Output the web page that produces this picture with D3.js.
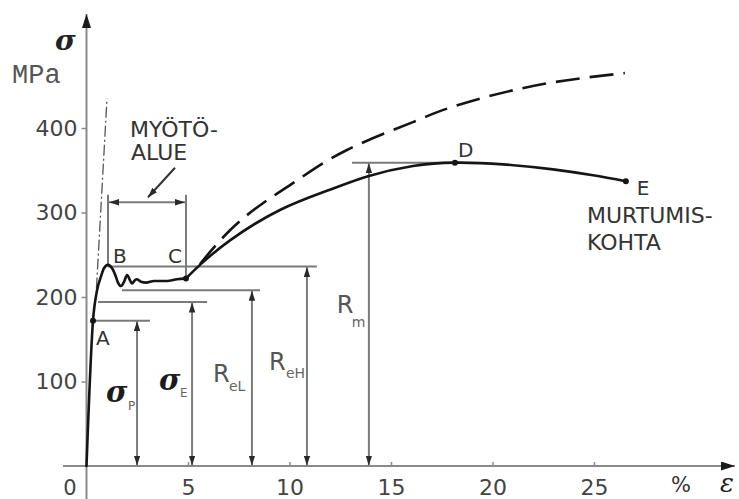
<!DOCTYPE html>
<html>
<head>
<meta charset="utf-8">
<script src="https://cdn.jsdelivr.net/npm/d3@7"></script>
<style>
  html, body { margin: 0; padding: 0; background: #fff; }
  svg { display: block; }
</style>
</head>
<body>
<svg id="chart" width="739" height="499"></svg>
<script>
// Strain (%) and stress (MPa) values for a mild steel tensile test.
const strainTicks = [5, 10, 15, 20, 25];
const stressTicks = [100, 200, 300, 400];

// Engineering stress-strain curve [strain %, stress MPa]: elastic part and yield plateau up to C
const yieldCurve = [
  [0, 0], [0.32, 172], [0.52, 208], [0.71, 224], [0.86, 234], [1.06, 238],
  [1.26, 234], [1.45, 224], [1.55, 217], [1.70, 213], [1.85, 218], [2.0, 226],
  [2.14, 220], [2.24, 216], [2.39, 220], [2.49, 221], [2.68, 218], [2.93, 217],
  [3.33, 219], [3.97, 219], [4.46, 221], [4.90, 222]
];
// ...and strain hardening from C to fracture at E
const hardeningCurve = [
  [4.90, 222], [5.59, 238], [7.07, 267], [9.53, 303], [11.99, 327], [13.87, 343],
  [16.08, 355], [18.15, 359], [20.52, 357], [22.98, 351], [24.95, 344], [26.57, 337]
];

// True stress curve, branching off after the yield plateau
const trueStressCurve = [
  [5.59, 239], [7.07, 279], [8.69, 311], [10.37, 338], [12.83, 374],
  [16.08, 407], [17.41, 420], [19.73, 437], [22.98, 454], [26.52, 465]
];

// Extension of the linear elastic (Hooke) line
const hookeLine = [[0.49, 210], [1.01, 435]];

// Named points on the curve
const pointNames = ["A", "B", "C", "D", "E"];
const pointStrain = [0.32, 1.06, 4.90, 18.15, 26.57];
const pointStress = [172, 238, 222, 359, 337];
const pointDotted = [true, false, true, true, true];

// Characteristic stress levels: level, line start/end strain, dimension strain
const limitNames = ["σP", "σE", "ReL", "ReH", "Rm"];
const limitStress = [172, 194, 208, 236, 359];
const limitFrom = [0.32, 0.57, 1.75, 1.06, 13.08];
const limitTo = [3.13, 5.94, 8.55, 11.35, 18.15];
const limitAt = [2.49, 5.2, 8.15, 10.86, 13.91];

// Yield region (myötöalue) between B and C
const yieldStart = 1.06, yieldEnd = 4.90;
const yieldTopStress = 321, yieldArrowStress = 312;

const svg = d3.select("#chart");
const x = d3.scaleLinear().domain([0, 25]).range([86.5, 594]);
const y = d3.scaleLinear().domain([0, 400]).range([466, 128]);

const AXIS = "#8a8a8a", DIM = "#7a7a7a", INK = "#151515", TXT = "#333";
const SANS = "'DejaVu Sans', sans-serif";
const SERIF = "'DejaVu Serif', serif";

// Arrowhead markers
const defs = svg.append("defs");
function marker(id, w, h, color) {
  defs.append("marker")
    .attr("id", id).attr("markerUnits", "userSpaceOnUse")
    .attr("markerWidth", w).attr("markerHeight", h)
    .attr("refX", w).attr("refY", h / 2)
    .attr("orient", "auto-start-reverse")
    .append("path").attr("d", `M0,0L${w},${h / 2}L0,${h}Z`).attr("fill", color);
}
marker("dimArrow", 10, 6.5, "#2a2a2a");
marker("axisArrow", 14, 9, "#1a1a1a");

// Axes
const x0 = x(0), yBase = y(0);
svg.append("line").attr("x1", 63).attr("x2", 735).attr("y1", yBase).attr("y2", yBase)
  .attr("stroke", AXIS).attr("stroke-width", 2).attr("marker-end", "url(#axisArrow)");
svg.append("line").attr("x1", x0).attr("x2", x0).attr("y1", 499).attr("y2", 14)
  .attr("stroke", AXIS).attr("stroke-width", 2).attr("marker-end", "url(#axisArrow)");

const gx = svg.append("g").attr("transform", `translate(0,${yBase})`)
  .call(d3.axisBottom(x).tickValues(strainTicks).tickSize(-4).tickPadding(13));
const gy = svg.append("g").attr("transform", `translate(${x0},0)`)
  .call(d3.axisLeft(y).tickValues(stressTicks).tickSize(5).tickPadding(4));
[gx, gy].forEach(g => {
  g.select(".domain").remove();
  g.selectAll(".tick line").attr("stroke", AXIS).attr("stroke-width", 1.5);
  g.selectAll(".tick text").attr("fill", "#444").attr("font-family", SANS).attr("font-size", 22);
});

svg.append("text").attr("x", 70).attr("y", 495).attr("text-anchor", "middle")
  .attr("font-family", SANS).attr("font-size", 21).attr("fill", "#444").text("0");
svg.append("text").attr("x", 671).attr("y", 492)
  .attr("font-family", SANS).attr("font-size", 21).attr("fill", "#333").text("%");
svg.append("text").attr("x", 720).attr("y", 492)
  .attr("font-family", SERIF).attr("font-style", "italic").attr("font-size", 26).attr("fill", "#222").text("ε");
svg.append("text").attr("x", 55).attr("y", 50)
  .attr("font-family", SERIF).attr("font-style", "italic").attr("font-weight", "bold")
  .attr("font-size", 28).attr("fill", "#222").text("σ");
svg.append("text").attr("x", 12).attr("y", 83)
  .attr("font-family", "'Liberation Mono', monospace").attr("font-size", 27).attr("fill", "#555").text("MPa");

// Characteristic stress levels with dimension arrows
limitNames.forEach((name, i) => {
  const ly = y(limitStress[i]);
  svg.append("line").attr("x1", x(limitFrom[i])).attr("x2", x(limitTo[i]))
    .attr("y1", ly).attr("y2", ly).attr("stroke", DIM).attr("stroke-width", 2);
  const ax = x(limitAt[i]);
  svg.append("line").attr("x1", ax).attr("x2", ax).attr("y1", ly + 0.5).attr("y2", yBase - 0.5)
    .attr("stroke", DIM).attr("stroke-width", 2)
    .attr("marker-start", "url(#dimArrow)").attr("marker-end", "url(#dimArrow)");
});

// Dimension labels
function label(xp, yp, txt, opts) {
  const t = svg.append("text").attr("x", xp).attr("y", yp).text(txt)
    .attr("font-family", opts.serif ? SERIF : SANS)
    .attr("font-size", opts.size).attr("fill", opts.fill || TXT);
  if (opts.italic) t.attr("font-style", "italic");
  if (opts.bold) t.attr("font-weight", "bold");
  return t;
}
const symb = { serif: true, italic: true, bold: true, size: 29, fill: "#1c1c1c" };
label(x(limitAt[0]) - 31, 402, "σ", symb);
label(x(limitAt[0]) - 9, 410, "P", { size: 12, fill: "#666" });
label(x(limitAt[1]) - 33, 390, "σ", symb);
label(x(limitAt[1]) - 12, 397, "E", { size: 12, fill: "#666" });
label(x(limitAt[2]) - 39, 382, "R", { size: 24, fill: "#555" });
label(x(limitAt[2]) - 23, 391, "eL", { size: 14, fill: "#666" });
label(x(limitAt[3]) - 38, 370, "R", { size: 24, fill: "#555" });
label(x(limitAt[3]) - 21, 378, "eH", { size: 14, fill: "#666" });
label(x(limitAt[4]) - 32, 313, "R", { size: 24, fill: "#555" });
label(x(limitAt[4]) - 17, 327, "m", { size: 14, fill: "#666" });

// Yield region bracket
const yTop = y(yieldTopStress);
svg.append("line").attr("x1", x(yieldStart)).attr("x2", x(yieldStart))
  .attr("y1", yTop).attr("y2", y(limitStress[3])).attr("stroke", DIM).attr("stroke-width", 2);
svg.append("line").attr("x1", x(yieldEnd)).attr("x2", x(yieldEnd))
  .attr("y1", yTop).attr("y2", y(pointStress[2])).attr("stroke", DIM).attr("stroke-width", 2);
svg.append("line").attr("x1", x(yieldStart) + 1).attr("x2", x(yieldEnd) - 1)
  .attr("y1", y(yieldArrowStress)).attr("y2", y(yieldArrowStress))
  .attr("stroke", DIM).attr("stroke-width", 2)
  .attr("marker-start", "url(#dimArrow)").attr("marker-end", "url(#dimArrow)");
svg.append("line").attr("x1", x(4.36)).attr("x2", x(3.03))
  .attr("y1", y(353)).attr("y2", y(318))
  .attr("stroke", "#333").attr("stroke-width", 2).attr("marker-end", "url(#dimArrow)");
label(130, 137, "MYÖTÖ-", { size: 22 });
label(131, 160, "ALUE", { size: 22 });

// Curves: the yield plateau keeps its local extrema, the hardening parts are smooth splines
const plateauLine = d3.line().x(d => x(d[0])).y(d => y(d[1])).curve(d3.curveMonotoneX);
const smoothLine = d3.line().x(d => x(d[0])).y(d => y(d[1])).curve(d3.curveNatural);
svg.append("path").datum(hookeLine).attr("d", d3.line().x(d => x(d[0])).y(d => y(d[1])))
  .attr("fill", "none").attr("stroke", "#555").attr("stroke-width", 1.3)
  .attr("stroke-dasharray", "11,3,2,3");
svg.append("path").datum(trueStressCurve).attr("d", smoothLine)
  .attr("fill", "none").attr("stroke", INK).attr("stroke-width", 2.6)
  .attr("stroke-dasharray", "24,10");
svg.append("path").datum(yieldCurve).attr("d", plateauLine)
  .attr("fill", "none").attr("stroke", INK).attr("stroke-width", 2.6)
  .attr("stroke-linejoin", "round").attr("stroke-linecap", "round");
svg.append("path").datum(hardeningCurve).attr("d", smoothLine)
  .attr("fill", "none").attr("stroke", INK).attr("stroke-width", 2.6)
  .attr("stroke-linejoin", "round").attr("stroke-linecap", "round");

// Named points
const nameOffset = { A: [3, 24], B: [5, -2], C: [-18, -15], D: [3, -6], E: [11, 14] };
pointNames.forEach((n, i) => {
  const px = x(pointStrain[i]), py = y(pointStress[i]);
  if (pointDotted[i]) svg.append("circle").attr("cx", px).attr("cy", py).attr("r", 3).attr("fill", INK);
  label(px + nameOffset[n][0], py + nameOffset[n][1], n, { size: 20 });
});
label(587, 223, "MURTUMIS-", { size: 22 });
label(587, 250, "KOHTA", { size: 22 });
</script>
</body>
</html>
